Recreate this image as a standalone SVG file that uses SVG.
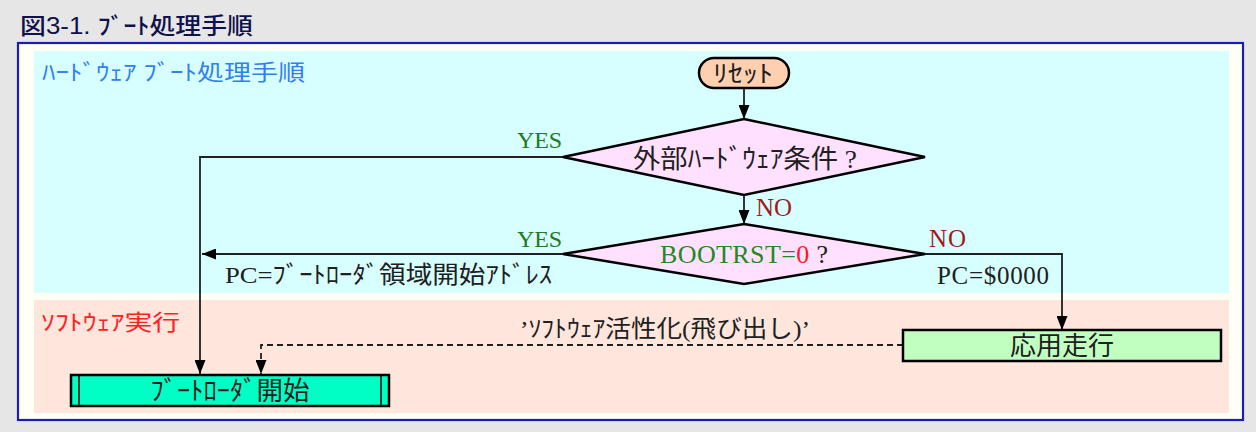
<svg xmlns="http://www.w3.org/2000/svg" width="1256" height="432" viewBox="0 0 1256 432">
<style>
.jp{font-family:"Liberation Serif","Noto Sans CJK JP",serif;fill:#202020;}
.sans{font-family:"Liberation Sans","Noto Sans CJK JP",sans-serif;}
.yes{fill:#207a20;}
.no{fill:#a01c1c;}
.line{fill:none;stroke:#202020;stroke-width:1.8;}
.dash{stroke-dasharray:6 4;}
.shape{stroke:#000;stroke-width:2.5;}
</style>
<defs>
<marker id="ah" viewBox="0 0 14 11" refX="14" refY="5.5" markerWidth="14" markerHeight="11" markerUnits="userSpaceOnUse" orient="auto">
<path d="M0,0 L14,5.5 L0,11 Z" fill="#000"/>
</marker>
</defs>
<rect x="0" y="0" width="1256" height="432" fill="#e6e6e6"/>
<text class="sans" x="20" y="34" font-size="23" font-weight="500" fill="#10104a" textLength="233" lengthAdjust="spacingAndGlyphs">図3-1. ﾌﾞｰﾄ処理手順</text>
<rect x="18" y="43" width="1225" height="377" fill="#fffff5" stroke="#1c1cb4" stroke-width="2.2"/>
<rect x="34" y="51" width="1195" height="242" fill="#d8ffff"/>
<rect x="34" y="300" width="1195" height="113" fill="#ffe6dc"/>
<text class="jp" x="42" y="80" font-size="22" style="fill:#3080f0" textLength="263" lengthAdjust="spacingAndGlyphs">ﾊｰﾄﾞｳｪｱ ﾌﾞｰﾄ処理手順</text>
<text class="jp" x="41" y="330" font-size="22" style="fill:#ff2020" textLength="139" lengthAdjust="spacingAndGlyphs">ｿﾌﾄｳｪｱ実行</text>

<g id="connectors">
<path class="line" d="M744,88 V119" marker-end="url(#ah)"/>
<path class="line" d="M744,195 V224" marker-end="url(#ah)"/>
<path class="line" d="M563,157 H200 V374" marker-end="url(#ah)"/>
<path class="line" d="M563,254 H202" marker-end="url(#ah)"/>
<path class="line" d="M925,254 H1062 V330" marker-end="url(#ah)"/>
<path class="line dash" d="M903,345 H261 V374" marker-end="url(#ah)"/>
<text class="jp yes" x="517" y="148" font-size="24" textLength="45">YES</text>
<text class="jp no" x="756" y="216" font-size="25" textLength="36">NO</text>
<text class="jp yes" x="517" y="247" font-size="24" textLength="45">YES</text>
<text class="jp" x="225" y="283" font-size="24" textLength="327" lengthAdjust="spacingAndGlyphs">PC=ﾌﾞｰﾄﾛｰﾀﾞ領域開始ｱﾄﾞﾚｽ</text>
<text class="jp no" x="929" y="247" font-size="25" textLength="37">NO</text>
<text class="jp" x="937" y="284" font-size="25" textLength="112">PC=$0000</text>
<text class="jp" x="520" y="337" font-size="24" textLength="290" lengthAdjust="spacingAndGlyphs">’ｿﾌﾄｳｪｱ活性化(飛び出し)’</text>
</g>

<g id="reset">
<rect x="699" y="58" width="90" height="30" rx="15" fill="#ffd0b0" class="shape" stroke-width="2"/>
<text class="jp" x="713" y="82" font-size="24" textLength="60" lengthAdjust="spacingAndGlyphs">ﾘｾｯﾄ</text>
</g>
<g id="cond-hw">
<polygon points="744,119 925,157 744,195 563,157" fill="#ffe0ff" class="shape"/>
<text class="jp" x="633" y="168" font-size="26" textLength="224" lengthAdjust="spacingAndGlyphs">外部ﾊｰﾄﾞｳｪｱ条件 ?</text>
</g>
<g id="cond-bootrst">
<polygon points="744,224 925,254 744,284 563,254" fill="#ffe0ff" class="shape"/>
<text class="jp" x="660" y="263" font-size="26" textLength="168"><tspan style="fill:#208a20">BOOTRST=</tspan><tspan style="fill:#ff1a1a">0</tspan> ?</text>
</g>
<g id="app-run">
<rect x="903" y="330" width="318" height="31" fill="#c0ffc0" class="shape"/>
<text class="jp" x="1062" y="355" font-size="26" text-anchor="middle">応用走行</text>
</g>
<g id="bootloader">
<rect x="71" y="375" width="318" height="31" fill="#00ffc4" class="shape"/>
<line x1="79" y1="375" x2="79" y2="406" stroke="#000" stroke-width="1.5"/>
<line x1="381" y1="375" x2="381" y2="406" stroke="#000" stroke-width="1.5"/>
<text class="jp" x="230" y="400" font-size="26" text-anchor="middle" textLength="159" lengthAdjust="spacingAndGlyphs">ﾌﾞｰﾄﾛｰﾀﾞ開始</text>
</g>
</svg>
